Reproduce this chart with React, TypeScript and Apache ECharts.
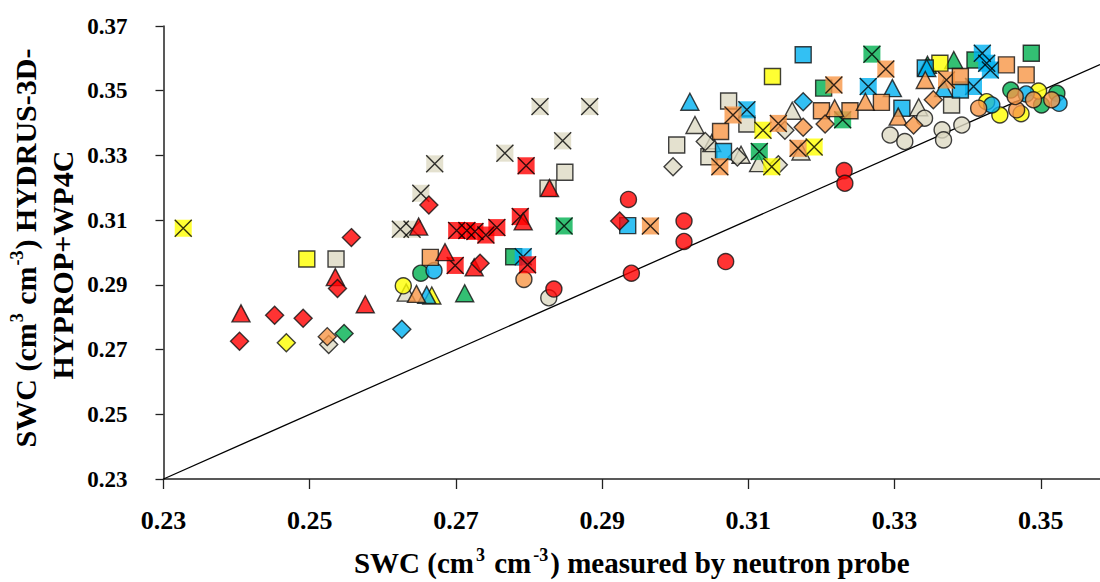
import React, { useEffect, useRef } from "react";
import * as echarts from "echarts";

// ---- tick values ----
const xTicks = [0.23, 0.25, 0.27, 0.29, 0.31, 0.33, 0.35];
const yTicks = [0.23, 0.25, 0.27, 0.29, 0.31, 0.33, 0.35, 0.37];
const xMin = 0.23;
const xMax = 0.3581;
const yMin = 0.23;
const yMax = 0.37;
const oneToOne = [[0.23, 0.23], [0.3581, 0.3581]];

// ---- gray series ----
const grayXbox = [[0.2671, 0.3274], [0.2652, 0.3183], [0.2624, 0.3072], [0.264, 0.3072], [0.2815, 0.3451], [0.2883, 0.3451], [0.2846, 0.3345], [0.2767, 0.3307]];
const graySquare = [[0.2536, 0.298], [0.2849, 0.3248], [0.2826, 0.3199], [0.3002, 0.3332], [0.3073, 0.3468], [0.3098, 0.3397], [0.3046, 0.3296], [0.3378, 0.3456]];
const grayTriangle = [[0.2632, 0.2876], [0.3027, 0.3394], [0.305, 0.3338], [0.309, 0.3302], [0.3114, 0.3276], [0.316, 0.3438], [0.3172, 0.3312], [0.3333, 0.3449]];
const grayDiamond = [[0.2526, 0.2716], [0.2997, 0.3265], [0.3041, 0.3343], [0.3141, 0.3271], [0.315, 0.3378], [0.3085, 0.3295]];
const grayCircle = [[0.2827, 0.286], [0.3294, 0.3363], [0.3314, 0.3343], [0.3341, 0.3415], [0.3365, 0.3379], [0.3367, 0.3348], [0.3392, 0.3394]];

// ---- green series ----
const greenXbox = [[0.2848, 0.3082], [0.3269, 0.3613], [0.3115, 0.3312], [0.3229, 0.341]];
const greenSquare = [[0.2779, 0.2987], [0.3203, 0.3508], [0.341, 0.3595], [0.3487, 0.3616]];
const greenTriangle = [[0.2712, 0.2874], [0.3381, 0.3595], [0.3345, 0.358]];
const greenDiamond = [[0.2547, 0.275]];
const greenCircle = [[0.2652, 0.2936], [0.3522, 0.3492], [0.3501, 0.3456], [0.3459, 0.3502]];

// ---- yellow series ----
const yellowXbox = [[0.2327, 0.3075], [0.3132, 0.3265], [0.319, 0.3326], [0.312, 0.3378]];
const yellowSquare = [[0.2496, 0.298], [0.3133, 0.3544], [0.3362, 0.3585]];
const yellowTriangle = [[0.2667, 0.2867]];
const yellowDiamond = [[0.2468, 0.2721]];
const yellowCircle = [[0.2628, 0.2897], [0.3444, 0.3425], [0.3473, 0.3429], [0.3497, 0.3499], [0.3426, 0.3466]];

// ---- blue series ----
const blueXbox = [[0.2792, 0.2987], [0.3098, 0.3441], [0.3264, 0.3513], [0.342, 0.3616], [0.3426, 0.3585], [0.3431, 0.3564], [0.3408, 0.3513]];
const blueSquare = [[0.2935, 0.3083], [0.3175, 0.3611], [0.3066, 0.3312], [0.331, 0.3446], [0.3342, 0.357], [0.339, 0.3502]];
const blueTriangle = [[0.266, 0.2869], [0.302, 0.3466], [0.3297, 0.3508], [0.3344, 0.357], [0.3367, 0.3508]];
const blueDiamond = [[0.2626, 0.2763], [0.3175, 0.3466]];
const blueCircle = [[0.267, 0.2944], [0.3433, 0.3456], [0.3525, 0.3461], [0.348, 0.349]];

// ---- orange series ----
const orangeXbox = [[0.2966, 0.3082], [0.3288, 0.3567], [0.3079, 0.3425], [0.3061, 0.3265], [0.3141, 0.3399], [0.3168, 0.3322], [0.3217, 0.3518], [0.3371, 0.3533]];
const orangeSquare = [[0.2665, 0.2985], [0.3062, 0.3374], [0.32, 0.3438], [0.3239, 0.3438], [0.3282, 0.3464], [0.339, 0.3544], [0.3453, 0.358], [0.348, 0.3549]];
const orangeTriangle = [[0.2646, 0.2872], [0.3218, 0.3446], [0.326, 0.3466], [0.3305, 0.342], [0.3342, 0.3533]];
const orangeDiamond = [[0.2524, 0.274], [0.3175, 0.3387], [0.3205, 0.3397], [0.3326, 0.3394], [0.3353, 0.3472]];
const orangeCircle = [[0.2793, 0.2917], [0.3415, 0.3446], [0.3467, 0.3441], [0.3465, 0.3482], [0.349, 0.3472], [0.3515, 0.3472]];

// ---- red series ----
const redXbox = [[0.2701, 0.3068], [0.2715, 0.3068], [0.2699, 0.296], [0.2726, 0.3065], [0.2741, 0.3054], [0.2756, 0.3077], [0.2788, 0.3111], [0.2796, 0.3268], [0.2798, 0.2962]];
const redTriangle = [[0.2649, 0.308], [0.2535, 0.2924], [0.2576, 0.284], [0.2406, 0.2812], [0.2685, 0.3001], [0.2828, 0.3199], [0.2792, 0.3096], [0.2725, 0.2954]];
const redDiamond = [[0.2663, 0.3147], [0.2557, 0.3046], [0.2538, 0.2889], [0.2452, 0.2806], [0.2491, 0.2797], [0.2404, 0.2726], [0.2733, 0.2967], [0.2924, 0.3097]];
const redCircle = [[0.2936, 0.3164], [0.3012, 0.3097], [0.3012, 0.3034], [0.294, 0.2936], [0.2834, 0.2887], [0.3069, 0.2972], [0.3231, 0.3253], [0.3232, 0.3214]];

const COLORS: Record<string, string> = {
  gray: "#DDD9C3",
  green: "#00B050",
  yellow: "#FFFF00",
  blue: "#00B0F0",
  orange: "#F79646",
  red: "#FF0000",
};

const groups: Array<[string, string, number[][]]> = [
  ["gray", "xbox", grayXbox], ["gray", "square", graySquare], ["gray", "triangle", grayTriangle], ["gray", "diamond", grayDiamond], ["gray", "circle", grayCircle],
  ["green", "xbox", greenXbox], ["green", "square", greenSquare], ["green", "triangle", greenTriangle], ["green", "diamond", greenDiamond], ["green", "circle", greenCircle],
  ["yellow", "xbox", yellowXbox], ["yellow", "square", yellowSquare], ["yellow", "triangle", yellowTriangle], ["yellow", "diamond", yellowDiamond], ["yellow", "circle", yellowCircle],
  ["blue", "xbox", blueXbox], ["blue", "square", blueSquare], ["blue", "triangle", blueTriangle], ["blue", "diamond", blueDiamond], ["blue", "circle", blueCircle],
  ["orange", "xbox", orangeXbox], ["orange", "square", orangeSquare], ["orange", "triangle", orangeTriangle], ["orange", "diamond", orangeDiamond], ["orange", "circle", orangeCircle],
  ["red", "xbox", redXbox], ["red", "triangle", redTriangle], ["red", "diamond", redDiamond], ["red", "circle", redCircle],
];

const FONT = "'Liberation Serif', 'Times New Roman', serif";

function buildSeries(): any[] {
  const out: any[] = [];
  for (const [c, shape, data] of groups) {
    if (!data.length) continue;
    const color = COLORS[c];
    const base = { type: "scatter", data, silent: true, emphasis: { disabled: true } };
    if (shape === "xbox") {
      out.push({ ...base, name: c + "-xbox", symbol: "rect", symbolSize: 17, itemStyle: { color, borderWidth: 0 } });
      out.push({
        ...base,
        name: c + "-xbox-x",
        symbol: "path://M0,0L10,10M10,0L0,10",
        symbolSize: 17,
        itemStyle: { color: "rgba(0,0,0,0)", borderColor: "#000", borderWidth: 1.4 },
      });
    } else {
      const sym = shape === "square" ? "rect" : shape;
      const size = shape === "circle" ? 16 : shape === "square" ? 16 : shape === "diamond" ? 18 : [18, 17];
      out.push({ ...base, name: c + "-" + shape, symbol: sym, symbolSize: size, itemStyle: { color, borderColor: "#111", borderWidth: 1.4 } });
    }
  }
  return out;
}

export default function App() {
  const ref = useRef<HTMLDivElement>(null);
  useEffect(() => {
    if (!ref.current) return;
    const chart = echarts.init(ref.current, undefined, { renderer: "svg" });
    const option: any = {
      animation: false,
      backgroundColor: "#fff",
      grid: { left: 163.5, right: 0, top: 26, bottom: 103, containLabel: false },
      xAxis: {
        type: "value",
        min: xMin,
        max: xMax,
        interval: 0.02,
        axisLine: { show: true, onZero: false, lineStyle: { color: "#222", width: 1.5 } },
        axisTick: { show: true, length: 10, lineStyle: { color: "#222", width: 1.3 } },
        splitLine: { show: false },
        axisLabel: {
          margin: 28,
          showMaxLabel: false,
          formatter: (v: number) => (xTicks.some((t) => Math.abs(t - v) < 1e-6) ? v.toFixed(2) : ""),
          fontFamily: FONT,
          fontWeight: "bold",
          fontSize: 26,
          color: "#000",
        },
        name: "{n|SWC (cm}{s|3}{n| cm}{s|-3}{n|) measured by neutron probe}",
        nameLocation: "middle",
        nameGap: 67,
        nameTextStyle: {
          rich: {
            n: { fontFamily: FONT, fontWeight: "bold", fontSize: 29, color: "#000", lineHeight: 33 },
            s: { fontFamily: FONT, fontWeight: "bold", fontSize: 18, color: "#000", verticalAlign: "top", lineHeight: 33, padding: [0, 2, 12, 2] },
          },
        },
      },
      yAxis: {
        type: "value",
        min: yMin,
        max: yMax,
        interval: 0.02,
        axisLine: { show: true, onZero: false, lineStyle: { color: "#222", width: 1.5 } },
        axisTick: { show: true, length: 8, lineStyle: { color: "#222", width: 1.3 } },
        splitLine: { show: false },
        axisLabel: {
          margin: 36,
          formatter: (v: number) => (yTicks.some((t) => Math.abs(t - v) < 1e-6) ? v.toFixed(2) : ""),
          fontFamily: FONT,
          fontWeight: "bold",
          fontSize: 23,
          color: "#000",
        },
      },
      graphic: [
        {
          type: "text",
          x: 25,
          y: 248,
          rotation: Math.PI / 2,
          style: {
            text: "{n|SWC (cm}{s|3}{n| cm}{s|-3}{n|) HYDRUS-3D-}",
            align: "center",
            verticalAlign: "middle",
            rich: {
              n: { fontFamily: FONT, fontWeight: "bold", fontSize: 30, fill: "#000", lineHeight: 34 },
              s: { fontFamily: FONT, fontWeight: "bold", fontSize: 18, fill: "#000", verticalAlign: "top", lineHeight: 34, padding: [0, 1, 14, 1] },
            },
          },
        },
        {
          type: "text",
          x: 62,
          y: 265,
          rotation: Math.PI / 2,
          style: {
            text: "HYPROP+WP4C",
            align: "center",
            verticalAlign: "middle",
            font: "bold 30px " + FONT,
            fill: "#000",
          },
        },
      ],
      series: [
        {
          type: "line",
          data: oneToOne,
          symbol: "none",
          silent: true,
          lineStyle: { color: "#000", width: 1.3 },
          z: 1,
        },
        ...buildSeries(),
      ],
    };
    chart.setOption(option);
    return () => chart.dispose();
  }, []);
  return <div ref={ref} style={{ position: "fixed", left: 0, top: 0, width: 1100, height: 582 }} />;
}
